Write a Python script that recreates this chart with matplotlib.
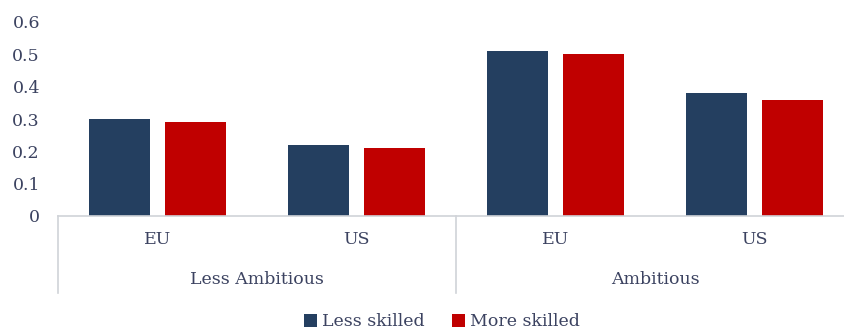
import matplotlib.pyplot as plt
import numpy as np
from matplotlib.patches import Patch

# data
countries = ["EU", "US", "EU", "US"]
groups = ["Less Ambitious", "Ambitious"]
less_skilled = [0.30, 0.22, 0.51, 0.38]
more_skilled = [0.29, 0.21, 0.50, 0.36]
yticks = [0, 0.1, 0.2, 0.3, 0.4, 0.5, 0.6]

navy = '#243f60'
red = '#c00000'
text_col = '#3b4260'
grid_col = '#d0d3d8'

plt.rcParams['font.family'] = ['DejaVu Serif']
fs = 12.5

W, H = 845, 332
fig = plt.figure(figsize=(W / 100, H / 100), dpi=100)
# axes placed in pixel terms: x0=58, x1=854 (right edge runs off the canvas), y0=216, top=22
ax = fig.add_axes([58 / W, (H - 216) / H, (854 - 58) / W, (216 - 22) / H])

x = np.arange(len(countries))
bw = 0.307
gap = 0.075
ax.bar(x - (bw + gap) / 2, less_skilled, bw, color=navy, label='Less skilled')
ax.bar(x + (bw + gap) / 2, more_skilled, bw, color=red, label='More skilled')

ax.set_xlim(-0.5, len(countries) - 0.5)
ax.set_ylim(0, 0.6)
ax.set_yticks(yticks)
ax.set_yticklabels(['0' if v == 0 else f'{v:.1f}' for v in yticks])
ax.tick_params(axis='y', length=0, pad=13, labelsize=fs, labelcolor=text_col)

ax.set_xticks(x)
ax.set_xticklabels(countries)
ax.tick_params(axis='x', length=0, pad=11, labelsize=fs, labelcolor=text_col)

for s in ['top', 'right', 'left']:
    ax.spines[s].set_visible(False)
ax.spines['bottom'].set_color(grid_col)
ax.spines['bottom'].set_linewidth(1.2)

# group separators and labels below the axis
trans = ax.get_xaxis_transform()
sep_bottom = -(293 - 216) / (216 - 22)
for xs in [-0.5, 1.5, 3.5]:
    ax.plot([xs, xs], [0, sep_bottom], transform=trans, color=grid_col,
            lw=1.2, clip_on=False)
label_y = -(280 - 216) / (216 - 22)
for i, g in enumerate(groups):
    ax.text(2 * i + 0.5, label_y, g, transform=trans, ha='center', va='center',
            fontsize=fs, color=text_col)

handles = [Patch(facecolor=navy, label='Less skilled'),
           Patch(facecolor=red, label='More skilled')]
fig.legend(handles=handles, loc='center', bbox_to_anchor=(442 / W, 1 - 322 / H),
           ncol=2, frameon=False, fontsize=fs, labelcolor=text_col,
           handlelength=0.75, handleheight=0.75, handletextpad=0.3,
           columnspacing=1.6)

fig.savefig('out.png', dpi=100)
